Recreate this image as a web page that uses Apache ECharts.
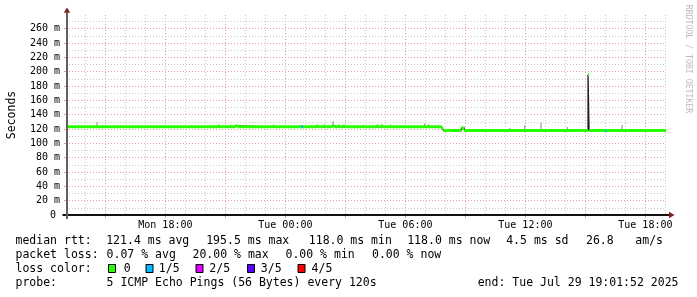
<!DOCTYPE html>
<html><head><meta charset="utf-8">
<script src="https://cdn.jsdelivr.net/npm/echarts@6/dist/echarts.min.js"></script>
<style>html,body{margin:0;padding:0;background:#fff}#c{width:697px;height:297px}</style>
</head><body><div id="c"></div>
<script>
// ---------- data ----------
const startTime = '2025-07-28 13:01:52';
const endTime = '2025-07-29 19:01:52';
const yMax = 279;

const medianTimes = [
  '2025-07-28 13:01:52','2025-07-28 20:36','2025-07-28 20:42','2025-07-28 21:15','2025-07-28 21:18',
  '2025-07-28 21:28','2025-07-28 21:37','2025-07-28 23:23','2025-07-28 23:26',
  '2025-07-29 01:33','2025-07-29 01:39','2025-07-29 01:52','2025-07-29 01:58','2025-07-29 02:18',
  '2025-07-29 02:27','2025-07-29 02:37','2025-07-29 02:43','2025-07-29 02:52','2025-07-29 02:58',
  '2025-07-29 03:52','2025-07-29 03:55','2025-07-29 04:33','2025-07-29 04:39','2025-07-29 04:46',
  '2025-07-29 04:52','2025-07-29 05:13','2025-07-29 05:16','2025-07-29 07:48','2025-07-29 07:54',
  '2025-07-29 08:48','2025-07-29 08:57','2025-07-29 15:08','2025-07-29 15:11','2025-07-29 19:01:52'
];
const medianValues = [
  123.0, 124.3, 123.0, 124.3, 123.0,
  124.3, 123.0, 124.3, 123.0,
  124.3, 123.0, 124.3, 123.0, 124.3,
  123.0, 124.3, 123.0, 124.3, 123.0,
  124.3, 123.0, 124.3, 123.0, 124.3,
  123.0, 124.3, 123.0, 120.5, 118.0,
  121.5, 118.0, 195.5, 118.0, 118.0
];

const smokeTimes = ['2025-07-28 14:35','2025-07-29 00:43','2025-07-29 02:23','2025-07-29 06:58','2025-07-29 07:10',
                    '2025-07-29 11:13','2025-07-29 11:58','2025-07-29 12:47','2025-07-29 14:06','2025-07-29 16:50'];
const smokeLow  = [123.0, 123.0, 123.0, 123.0, 123.0, 118.0, 118.0, 118.0, 118.0, 118.0];
const smokeHigh = [129.5, 125.5, 131.0, 128.0, 126.5, 121.5, 125.2, 128.8, 122.8, 125.5];

const lossStart = ['2025-07-29 00:47','2025-07-29 16:00'];
const lossEnd   = ['2025-07-29 00:53','2025-07-29 16:04'];
const lossValue = [123.0, 117.5];
const lossLevel = [1, 1];

const lossLabels = ['0','1/5','2/5','3/5','4/5'];
const lossColors = ['#26ff00','#00b8ff','#dd00ff','#5e00ff','#ff0000'];

const xTickTimes  = ['2025-07-28 18:00','2025-07-29 00:00','2025-07-29 06:00','2025-07-29 12:00','2025-07-29 18:00'];
const xTickLabels = ['Mon 18:00','Tue 00:00','Tue 06:00','Tue 12:00','Tue 18:00'];
const xMajorGridTimes = ['2025-07-28 15:00','2025-07-28 18:00','2025-07-28 21:00','2025-07-29 00:00','2025-07-29 03:00',
                         '2025-07-29 06:00','2025-07-29 09:00','2025-07-29 12:00','2025-07-29 15:00','2025-07-29 18:00'];
const xMinorGridFirst = '2025-07-28 14:00';

const yTickValues = [0,20,40,60,80,100,120,140,160,180,200,220,240,260];
const yTickLabels = ['0','20 m','40 m','60 m','80 m','100 m','120 m','140 m','160 m','180 m','200 m','220 m','240 m','260 m'];
const yMinorValues = [10,30,50,70,90,110,130,150,170,190,210,230,250,270];

const legendRtt  = ['median rtt:','121.4 ms avg','195.5 ms max','118.0 ms min','118.0 ms now','4.5 ms sd','26.8','am/s'];
const legendLoss = ['packet loss:','0.07 % avg','20.00 % max','0.00 % min','0.00 % now'];
const legendColorTitle = 'loss color:';
const legendProbe = ['probe:','5 ICMP Echo Pings (56 Bytes) every 120s','end: Tue Jul 29 19:01:52 2025'];

// ---------- helpers ----------
function T(s){
  const [d,t] = s.split(' ');
  const [Y,M,D] = d.split('-').map(Number);
  const p = t.split(':').map(Number);
  return Date.UTC(Y, M-1, D, p[0], p[1], p[2] || 0);
}
const S = T(startTime), E = T(endTime);
const xTickMs = xTickTimes.map(T);
const xMajorMs = xMajorGridTimes.map(T);
const xMinorMs = [];
for (let t = T(xMinorGridFirst); t <= E; t += 3600e3) xMinorMs.push(t);

const FONT = '"DejaVu Sans Mono", monospace';
const GRID = {left: 66, top: 15, right: 31, bottom: 82};
const GX0 = GRID.left, GX1 = 697 - GRID.right, GY0 = GRID.top, GY1 = 297 - GRID.bottom;

const blackStep = medianTimes.map((t,i)=>[T(t), medianValues[i]]);
const greenSeg = [];
for (let i = 0; i < medianTimes.length - 1; i++){
  greenSeg.push([T(medianTimes[i]), medianValues[i]], [T(medianTimes[i+1]), medianValues[i]], [T(medianTimes[i+1]), '-']);
}
const smokeSeg = [];
smokeTimes.forEach((t,i)=>{ smokeSeg.push([T(t), smokeLow[i]], [T(t), smokeHigh[i]], [T(t), '-']); });
const lossSeg = [];
lossStart.forEach((t,i)=>{ lossSeg.push([T(t), lossValue[i]], [T(lossEnd[i]), lossValue[i]], [T(lossEnd[i]), '-']); });

const gray = '#c8c8c8', red = '#eb9c9c';

function txt(x, y, s, extra){
  return Object.assign({type:'text', x:x, y:y, z:100, silent:true,
    style:{text:s, font:'11.5px ' + FONT, fill:'#000', textAlign:'left', align:'left', textVerticalAlign:'middle', verticalAlign:'middle'}}, extra||{});
}

const graphics = [];
// axis lines + arrows
graphics.push({type:'line', z:50, silent:true, shape:{x1:62.5, y1:GY1, x2:669, y2:GY1}, style:{stroke:'#111', lineWidth:2}});
graphics.push({type:'line', z:50, silent:true, shape:{x1:GX0+1, y1:219, x2:GX0+1, y2:12.5}, style:{stroke:'#606060', lineWidth:2}});
graphics.push({type:'polygon', z:51, silent:true, shape:{points:[[669,211.8],[674.5,215],[669,218.2]]}, style:{fill:'#801f1f'}});
graphics.push({type:'polygon', z:51, silent:true, shape:{points:[[63.8,12.8],[67,7.5],[70.2,12.8]]}, style:{fill:'#801f1f'}});
// vendor text
graphics.push({type:'text', x:688, y:59, rotation:-Math.PI/2, z:100, silent:true,
  style:{text:'RRDTOOL / TOBI OETIKER', font:'8.2px ' + FONT, fill:'#bcbcbc', textAlign:'center', align:'center', textVerticalAlign:'middle', verticalAlign:'middle'}});
// legend line 1
const rttX = [15.5, 106.2, 206.2, 308.8, 407.2, 506.2, 586.0, 635.3];
legendRtt.forEach((s,i)=>graphics.push(txt(rttX[i], 241, s)));
const lossX = [15.5, 106.6, 192.5, 285.5, 372.0];
legendLoss.forEach((s,i)=>graphics.push(txt(lossX[i], 255.5, s)));
graphics.push(txt(15.5, 269, legendColorTitle));
const boxX = [108.5, 146, 196, 247.5, 298];
const boxLabelX = [123.8, 158.8, 209.3, 260.8, 311.6];
lossLabels.forEach((s,i)=>{
  graphics.push({type:'rect', z:100, silent:true, shape:{x:boxX[i], y:264.5, width:7, height:8}, style:{fill:lossColors[i], stroke:'#000', lineWidth:1}});
  graphics.push(txt(boxLabelX[i], 269, s));
});
const probeX = [15.5, 106.6, 477.7];
legendProbe.forEach((s,i)=>graphics.push(txt(probeX[i], 283.3, s)));

const chart = echarts.init(document.getElementById('c'), null, {renderer:'canvas'});
const baseX = {type:'value', min:S, max:E, position:'bottom', gridIndex:0, axisLine:{show:false}};
const baseY = {type:'value', min:0, max:yMax, position:'left', gridIndex:0, axisLine:{show:false}};
chart.setOption({
  animation:false,
  backgroundColor:'#fff',
  grid: Object.assign({containLabel:false, outerBoundsMode:'none'}, GRID),
  xAxis:[
    Object.assign({}, baseX, {
      axisTick:{show:false, customValues:xMinorMs}, axisLabel:{show:false},
      splitLine:{show:true, lineStyle:{color:gray, width:1, type:[1,2]}}}),
    Object.assign({}, baseX, {
      axisTick:{show:true, customValues:xMajorMs, length:3, lineStyle:{color:red, width:1}}, axisLabel:{show:false},
      splitLine:{show:true, lineStyle:{color:red, width:1, type:[1,2]}}}),
    Object.assign({}, baseX, {
      axisTick:{show:false, customValues:xTickMs}, splitLine:{show:false},
      axisLabel:{show:true, customValues:xTickMs, margin:5, color:'#000', fontFamily:FONT, fontSize:10,
        formatter:(v)=>{ const i = xTickMs.indexOf(v); return i >= 0 ? xTickLabels[i] : ''; }}})
  ],
  yAxis:[
    Object.assign({}, baseY, {
      axisTick:{show:false, customValues:yMinorValues}, axisLabel:{show:false},
      splitLine:{show:true, lineStyle:{color:gray, width:1, type:[1,2]}}}),
    Object.assign({}, baseY, {
      name:'Seconds', nameLocation:'middle', nameGap:48, nameRotate:90,
      nameTextStyle:{fontFamily:FONT, fontSize:11.5, color:'#000'},
      axisTick:{show:true, customValues:yTickValues, length:2, lineStyle:{color:red, width:1}},
      axisLabel:{show:true, customValues:yTickValues, margin:6, color:'#000', fontFamily:FONT, fontSize:10,
        formatter:(v)=>{ const i = yTickValues.indexOf(v); if (i < 0) return ''; return v === 0 ? '{z|' + yTickLabels[i] + '}' : yTickLabels[i]; },
        rich:{z:{fontFamily:FONT, fontSize:10, color:'#000', padding:[0,4,0,0]}}},
      splitLine:{show:true, lineStyle:{color:red, width:1, type:[1,2]}}})
  ],
  series:[
    {name:'smoke', type:'line', xAxisIndex:0, yAxisIndex:0, data:smokeSeg, symbol:'none', silent:true, z:2,
     connectNulls:false, lineStyle:{color:'#989898', width:1.2}},
    {name:'median', type:'line', xAxisIndex:0, yAxisIndex:0, data:blackStep, step:'end', symbol:'none', silent:true, z:3,
     lineStyle:{color:'#1e1e1e', width:1.3}},
    {name:'median 0 loss', type:'line', xAxisIndex:0, yAxisIndex:0, data:greenSeg, symbol:'none', silent:true, z:4,
     connectNulls:false, lineStyle:{color:lossColors[0], width:3}},
    {name:'median 1/5 loss', type:'line', xAxisIndex:0, yAxisIndex:0, data:lossSeg, symbol:'none', silent:true, z:5,
     connectNulls:false, lineStyle:{color:lossColors[lossLevel[0]], width:3}}
  ],
  graphic: graphics
});
</script>
</body></html>
